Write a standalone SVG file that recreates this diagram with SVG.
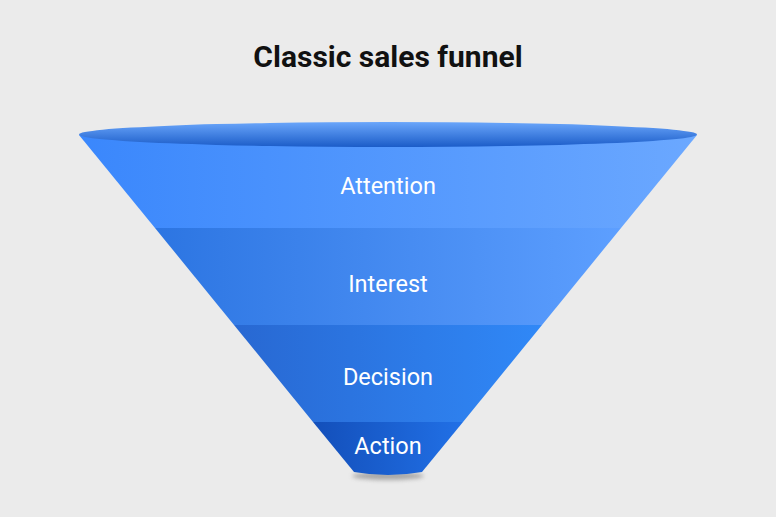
<svg xmlns="http://www.w3.org/2000/svg" width="776" height="517" viewBox="0 0 776 517">
<style>
.lbl{font-family:Roboto,"Liberation Sans",sans-serif;font-size:23.5px;fill:#ffffff;text-anchor:middle}
.title{font-family:Roboto,"Liberation Sans",sans-serif;font-size:30px;font-weight:bold;fill:#111111;text-anchor:middle}
</style>
<defs>
<linearGradient id="g1" x1="0" y1="0" x2="1" y2="0"><stop offset="0" stop-color="#3a87fc"/><stop offset="1" stop-color="#6ba8ff"/></linearGradient>
<linearGradient id="g2" x1="0" y1="0" x2="1" y2="0"><stop offset="0" stop-color="#2c75e2"/><stop offset="1" stop-color="#5d9fff"/></linearGradient>
<linearGradient id="g3" x1="0" y1="0" x2="1" y2="0"><stop offset="0" stop-color="#2868d2"/><stop offset="1" stop-color="#3088f7"/></linearGradient>
<linearGradient id="g4" x1="0" y1="0" x2="1" y2="0"><stop offset="0" stop-color="#134fba"/><stop offset="1" stop-color="#2170e6"/></linearGradient>
<linearGradient id="gt" x1="0" y1="0" x2="0" y2="1"><stop offset="0" stop-color="#6aa6fb"/><stop offset="1" stop-color="#1b5cc8"/></linearGradient>
<filter id="blur" x="-50%" y="-200%" width="200%" height="500%"><feGaussianBlur stdDeviation="2"/></filter>
</defs>
<rect width="776" height="517" fill="#ebebeb"/>
<text class="title" x="388" y="67">Classic sales funnel</text>
<ellipse cx="388" cy="476" rx="36" ry="4" fill="#8a8a8a" opacity="0.7" filter="url(#blur)"/>
<g id="attention">
<path d="M79,135 L697,135 L621,228 L155,228 Z" fill="url(#g1)"/>
<text class="lbl" x="388" y="194">Attention</text>
</g>
<g id="interest">
<path d="M155,228 L621,228 L542,325 L234,325 Z" fill="url(#g2)"/>
<text class="lbl" x="388" y="292">Interest</text>
</g>
<g id="decision">
<path d="M234,325 L542,325 L463,422 L313,422 Z" fill="url(#g3)"/>
<text class="lbl" x="388" y="385">Decision</text>
</g>
<g id="action">
<path d="M313,422 L463,422 L422,472 Q388,478 354,472 Z" fill="url(#g4)"/>
<text class="lbl" x="388" y="454">Action</text>
</g>
<g id="top">
<ellipse cx="388" cy="134.5" rx="309" ry="12.5" fill="url(#gt)"/>
</g>
<g id="connectors"/>
</svg>
